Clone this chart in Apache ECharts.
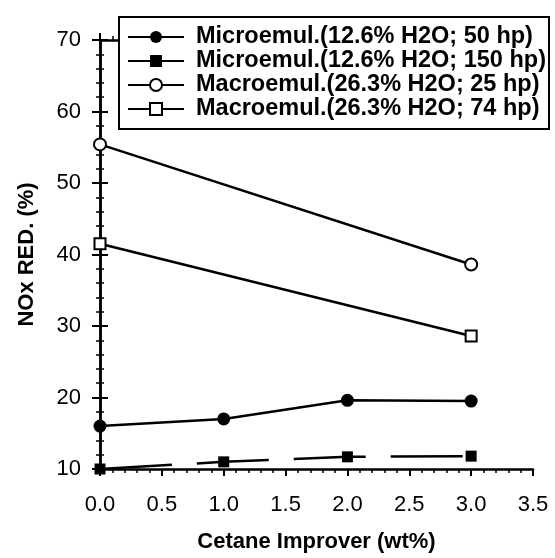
<!DOCTYPE html>
<html>
<head>
<meta charset="utf-8">
<script src="https://cdn.jsdelivr.net/npm/echarts@6/dist/echarts.min.js"></script>
<style>
  html, body { margin: 0; padding: 0; background: #fff; }
  #J_chartBox { width: 555px; height: 558px; }
</style>
</head>
<body>
<div id="J_chartBox"></div>
<script>
  // cetane improver (wt%)
  var xValues = [0, 1, 2, 3]
  var seriesNames = [
    'Microemul.(12.6% H2O; 50 hp)',
    'Microemul.(12.6% H2O; 150 hp)',
    'Macroemul.(26.3% H2O; 25 hp)',
    'Macroemul.(26.3% H2O; 74 hp)'
  ]
  var micro50 = [16.0, 17.0, 19.6, 19.5]
  var micro150 = [10.0, 11.0, 11.7, 11.8]
  var macroX = [0, 3]
  var macro25 = [55.4, 38.6]
  var macro74 = [41.5, 28.6]
  var xTicks = [0, 0.5, 1, 1.5, 2, 2.5, 3, 3.5]
  var yTicks = [10, 20, 30, 40, 50, 60, 70]

  function pairs (xs, ys) {
    return ys.map(function (v, i) { return [xs[i], v] })
  }

  var font = 'Liberation Sans, Arial, sans-serif'

  var tickAxisX = {
    type: 'value',
    min: xTicks[0],
    max: xTicks[xTicks.length - 1],
    interval: 0.5,
    axisLine: { show: true, lineStyle: { color: '#000', width: 2.5 } },
    splitLine: { show: false },
    axisTick: { show: true, length: 7, lineStyle: { color: '#000', width: 2 } },
    minorTick: { show: true, splitNumber: 5, length: 4, lineStyle: { color: '#000', width: 1.5 } }
  }
  var tickAxisY = {
    type: 'value',
    min: yTicks[0],
    max: yTicks[yTicks.length - 1],
    interval: 10,
    axisLine: { show: true, lineStyle: { color: '#000', width: 2.5 } },
    splitLine: { show: false },
    axisTick: { show: true, length: 8, lineStyle: { color: '#000', width: 2 } },
    minorTick: { show: true, splitNumber: 5, length: 4, lineStyle: { color: '#000', width: 1.5 } }
  }

  var option = {
    backgroundColor: '#fff',
    animation: false,
    grid: { left: 100, right: 22, top: 40, bottom: 84 },
    legend: {
      orient: 'vertical',
      left: 119,
      top: 17,
      data: seriesNames,
      backgroundColor: '#fff',
      borderColor: '#000',
      borderWidth: 2,
      borderRadius: 0,
      padding: [8, 3, 8, 8],
      itemGap: 0,
      itemWidth: 56,
      itemHeight: 15,
      textStyle: {
        color: '#000',
        fontFamily: font,
        fontWeight: 'bold',
        fontSize: 23.5,
        lineHeight: 21,
        padding: [0, 0, 0, 7]
      }
    },
    xAxis: [
      Object.assign({}, tickAxisX, {
        position: 'bottom',
        name: 'Cetane Improver (wt%)',
        nameLocation: 'middle',
        nameGap: 62,
        nameTextStyle: { color: '#000', fontFamily: font, fontWeight: 'bold', fontSize: 22 },
        axisLabel: {
          color: '#000',
          fontFamily: font,
          fontSize: 22,
          margin: 25,
          formatter: function (v) { return v.toFixed(1) }
        }
      }),
      Object.assign({}, tickAxisX, { position: 'top', axisLabel: { show: false } })
    ],
    yAxis: [
      Object.assign({}, tickAxisY, {
        position: 'left',
        name: 'NOx RED. (%)',
        nameLocation: 'middle',
        nameGap: 62,
        nameTextStyle: { color: '#000', fontFamily: font, fontWeight: 'bold', fontSize: 22 },
        axisLabel: { color: '#000', fontFamily: font, fontSize: 22, margin: 19 }
      }),
      Object.assign({}, tickAxisY, { position: 'right', axisLabel: { show: false } })
    ],
    series: [
      {
        name: seriesNames[0],
        type: 'line',
        data: pairs(xValues, micro50),
        symbol: 'circle',
        symbolSize: 13,
        lineStyle: { color: '#000', width: 2.5 },
        itemStyle: { color: '#000' }
      },
      {
        name: seriesNames[1],
        type: 'line',
        data: pairs(xValues, micro150),
        symbol: 'rect',
        symbolSize: 11,
        lineStyle: { color: '#000', width: 2.5, type: [72, 25] },
        itemStyle: { color: '#000' }
      },
      {
        name: seriesNames[2],
        type: 'line',
        data: pairs(macroX, macro25),
        symbol: 'emptyCircle',
        symbolSize: 12,
        lineStyle: { color: '#000', width: 2.5 },
        itemStyle: { color: '#000', borderWidth: 2.5 }
      },
      {
        name: seriesNames[3],
        type: 'line',
        data: pairs(macroX, macro74),
        symbol: 'emptyRect',
        symbolSize: 11,
        lineStyle: { color: '#000', width: 2.5 },
        itemStyle: { color: '#000', borderWidth: 2.5 }
      }
    ]
  }

  var chart = echarts.init(document.getElementById('J_chartBox'))
  chart.setOption(option)
</script>
</body>
</html>
